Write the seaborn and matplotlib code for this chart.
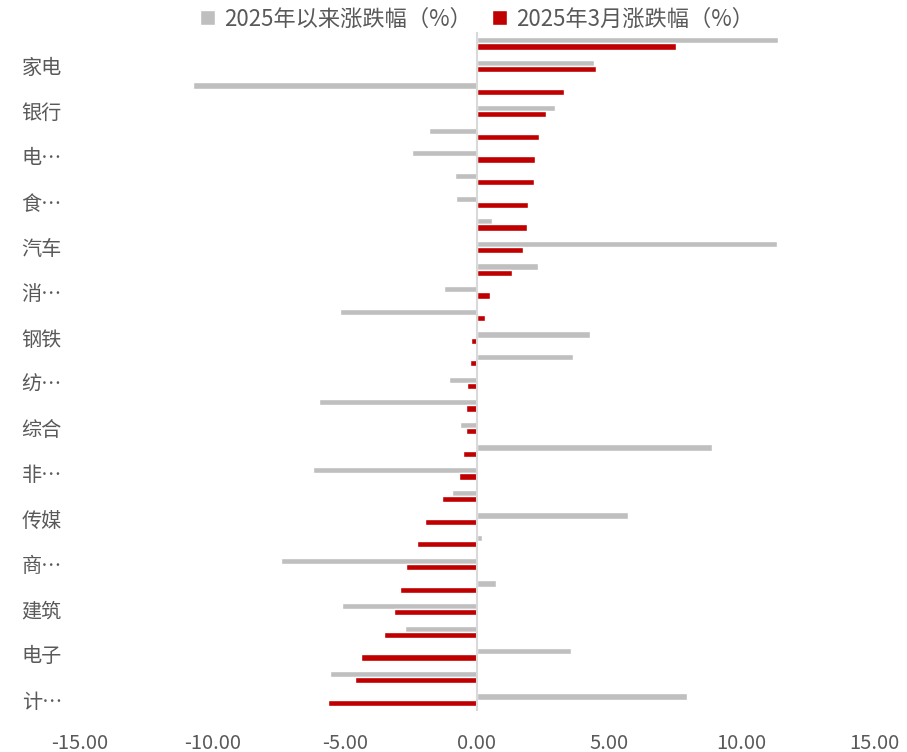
import matplotlib
matplotlib.use("Agg")
import matplotlib.pyplot as plt
import pandas as pd
import seaborn as sns
from matplotlib.ticker import FixedLocator, FuncFormatter

# CITIC level-1 industries, sorted by March return (top to bottom)
industries = [
    "有色金属", "家电", "煤炭", "银行", "石油石化", "电力设备及新能源",
    "电力及公用事业", "食品饮料", "农林牧渔", "汽车", "基础化工", "消费者服务",
    "房地产", "钢铁", "机械", "纺织服装", "建材", "综合", "医药", "非银行金融",
    "交通运输", "传媒", "轻工制造", "商贸零售", "综合金融", "建筑", "通信",
    "电子", "国防军工", "计算机",
]
ytd_change = [
    11.37, 4.42, -10.72, 2.93, -1.80, -2.47, -0.82, -0.78, 0.56, 11.32,
    2.30, -1.26, -5.16, 4.27, 3.64, -1.04, -5.97, -0.63, 8.89, -6.18,
    -0.93, 5.70, 0.20, -7.42, 0.72, -5.10, -2.73, 3.54, -5.55, 7.92,
]
march_change = [
    7.50, 4.51, 3.28, 2.62, 2.36, 2.19, 2.15, 1.93, 1.89, 1.74,
    1.32, 0.50, 0.30, -0.22, -0.26, -0.37, -0.41, -0.41, -0.52, -0.69,
    -1.34, -1.95, -2.28, -2.69, -2.91, -3.15, -3.51, -4.38, -4.60, -5.62,
]
# category labels as printed on the axis (every other one, long names cut short)
axis_labels = [
    "", "家电", "", "银行", "", "电…", "", "食…", "", "汽车",
    "", "消…", "", "钢铁", "", "纺…", "", "综合", "", "非…",
    "", "传媒", "", "商…", "", "建筑", "", "电子", "", "计…",
]
series_names = ["2025年以来涨跌幅（%）", "2025年3月涨跌幅（%）"]
x_ticks = [-15, -10, -5, 0, 5, 10, 15]

GRAY = "#BFBFBF"
RED = "#C00000"
TEXT = "#595959"

sns.set_theme(style="white")
plt.rcParams["font.family"] = ["Noto Sans CJK SC", "DejaVu Sans"]
plt.rcParams["axes.unicode_minus"] = False

df = pd.DataFrame({
    "industry": industries * 2,
    "value": ytd_change + march_change,
    "series": [series_names[0]] * len(industries) + [series_names[1]] * len(industries),
})

fig = plt.figure(figsize=(9.07, 7.52), dpi=100)
ax = fig.add_axes([80 / 907, 1 - 711 / 752, (874 - 80) / 907, (711 - 32) / 752])

sns.barplot(
    data=df, x="value", y="industry", hue="series", orient="h",
    order=industries, hue_order=series_names, palette=[GRAY, RED],
    width=0.55, gap=0, saturation=1, errorbar=None, ax=ax,
)

ax.set_xlim(-15, 15)
ax.set_ylim(len(industries) - 0.5, -0.5)
ax.xaxis.set_major_locator(FixedLocator(x_ticks))
ax.xaxis.set_major_formatter(FuncFormatter(lambda v, _: f"{v:.2f}"))
ax.set_yticks(range(len(industries)))
ax.set_yticklabels(axis_labels)
ax.set_xlabel("")
ax.set_ylabel("")
ax.tick_params(axis="both", length=0, colors=TEXT, labelsize=14.5)
ax.tick_params(axis="y", pad=13)
ax.tick_params(axis="x", pad=15.5)
for s in ax.spines.values():
    s.set_visible(False)
ax.axvline(0, color="#D9D9D9", lw=1.5, zorder=3)

handles, labels = ax.get_legend_handles_labels()
ax.get_legend().remove()
fig.legend(
    handles, labels, loc="center", bbox_to_anchor=(477 / 907, 1 - 19 / 752),
    ncol=2, frameon=False, fontsize=16, labelcolor=TEXT,
    handlelength=0.68, handleheight=0.68, handletextpad=0.4, columnspacing=0.9,
)

fig.savefig("out.png", dpi=100)
